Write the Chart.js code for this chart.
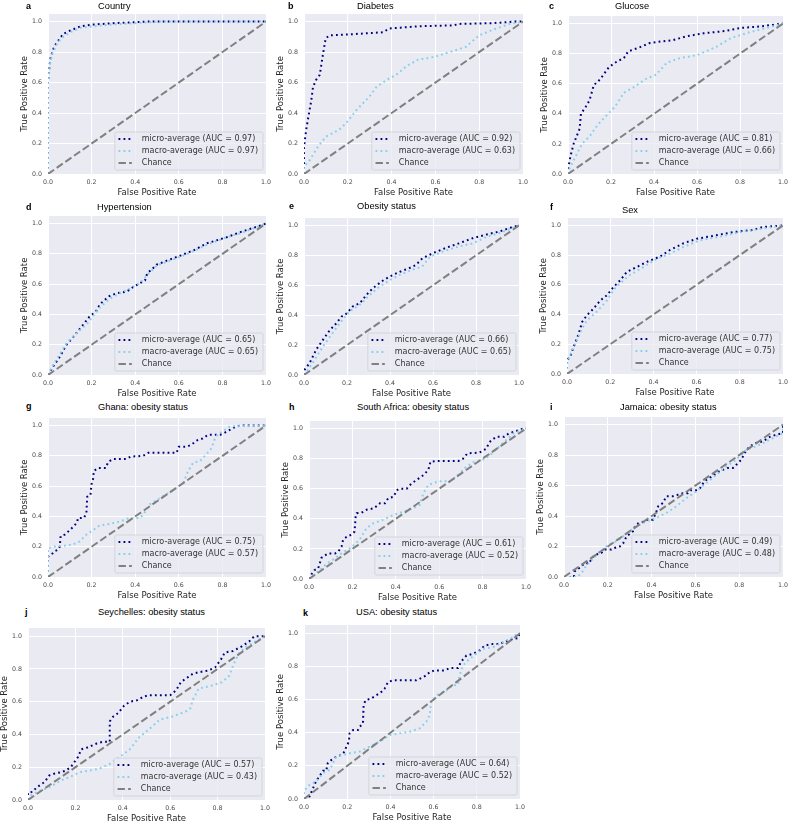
<!DOCTYPE html>
<html lang="en">
<head>
<meta charset="UTF-8">
<title>Curvas ROC</title>
<script src="https://cdn.jsdelivr.net/npm/chart.js"></script>
<style>
    html, body { margin: 0; padding: 0; background: #fff; }
    body { width: 788px; height: 821px; position: relative; overflow: hidden; }
    .panel { position: absolute; }
    .panel canvas { display: block; }
    .lbl { position: absolute; font-family: "Liberation Sans", Arial, sans-serif; line-height: 10px; white-space: nowrap; color: #000; }
    .letter { font-weight: bold; font-size: 9px; }
    .ttl { font-size: 9.3px; }
</style>
</head>
<body>
<script>
    // Datos de los paneles
    const panelLetters = ['a', 'b', 'c', 'd', 'e', 'f', 'g', 'h', 'i', 'j', 'k'];
    const panelTitles = ['Country', 'Diabetes', 'Glucose', 'Hypertension', 'Obesity status', 'Sex',
        'Ghana: obesity status', 'South Africa: obesity status', 'Jamaica: obesity status',
        'Seychelles: obesity status', 'USA: obesity status'];
    const microAuc = [0.97, 0.92, 0.81, 0.65, 0.66, 0.77, 0.75, 0.61, 0.49, 0.57, 0.64];
    const macroAuc = [0.97, 0.63, 0.66, 0.65, 0.65, 0.75, 0.57, 0.52, 0.48, 0.43, 0.52];
    const tickVals = [0, 0.2, 0.4, 0.6, 0.8, 1.0];
    const chanceLine = [[0, 0], [1, 1]];

    const countryMicro = [[0,0],[0,0.6],[0.005,0.68],[0.01,0.75],[0.02,0.8],[0.03,0.84],[0.05,0.88],[0.07,0.92],[0.1,0.94],[0.15,0.97],[0.2,0.98],[0.3,0.99],[0.45,1.0],[1,1]];
    const countryMacro = [[0,0],[0,0.6],[0.005,0.67],[0.01,0.73],[0.02,0.79],[0.04,0.85],[0.06,0.89],[0.1,0.93],[0.15,0.96],[0.25,0.975],[0.28,0.98],[0.4,0.99],[0.5,1.0],[1,1]];
    const diabetesMicro = [[0,0],[0,0.18],[0.011,0.30],[0.023,0.40],[0.033,0.48],[0.041,0.57],[0.056,0.62],[0.072,0.65],[0.087,0.79],[0.099,0.89],[0.117,0.91],[0.19,0.915],[0.25,0.92],[0.36,0.93],[0.39,0.955],[0.44,0.96],[0.53,0.97],[0.68,0.975],[0.71,0.985],[0.86,0.99],[0.96,1.0],[1,1]];
    const diabetesMacro = [[0,0],[0,0.05],[0.026,0.09],[0.064,0.18],[0.10,0.245],[0.16,0.29],[0.19,0.33],[0.24,0.42],[0.30,0.51],[0.33,0.57],[0.38,0.62],[0.42,0.65],[0.47,0.71],[0.52,0.75],[0.60,0.77],[0.665,0.80],[0.74,0.835],[0.80,0.91],[0.86,0.945],[0.94,0.985],[1,1]];
    const glucoseMicro = [[0,0],[0,0.03],[0.011,0.115],[0.026,0.2],[0.04,0.25],[0.054,0.30],[0.06,0.40],[0.08,0.44],[0.10,0.49],[0.12,0.59],[0.15,0.63],[0.17,0.67],[0.19,0.71],[0.23,0.75],[0.26,0.77],[0.28,0.815],[0.33,0.84],[0.38,0.87],[0.43,0.88],[0.49,0.89],[0.55,0.915],[0.63,0.935],[0.73,0.95],[0.80,0.97],[0.89,0.98],[1,1]];
    const glucoseMacro = [[0,0],[0,0.015],[0.026,0.09],[0.065,0.2],[0.10,0.25],[0.14,0.33],[0.18,0.39],[0.22,0.45],[0.26,0.54],[0.31,0.58],[0.36,0.63],[0.41,0.66],[0.46,0.74],[0.52,0.77],[0.60,0.79],[0.69,0.845],[0.76,0.905],[0.84,0.94],[0.92,0.97],[1,1]];
    const hypertensionMicro = [[0,0],[0.023,0.055],[0.054,0.12],[0.085,0.20],[0.115,0.25],[0.16,0.33],[0.19,0.385],[0.22,0.42],[0.24,0.47],[0.28,0.52],[0.315,0.54],[0.36,0.55],[0.39,0.58],[0.42,0.605],[0.445,0.625],[0.455,0.67],[0.50,0.73],[0.545,0.755],[0.61,0.79],[0.67,0.825],[0.73,0.87],[0.82,0.91],[0.885,0.945],[0.96,0.98],[1,1]];
    const hypertensionMacro = [[0,0],[0.023,0.065],[0.085,0.21],[0.13,0.275],[0.18,0.34],[0.21,0.395],[0.24,0.45],[0.285,0.505],[0.33,0.54],[0.375,0.57],[0.42,0.605],[0.455,0.66],[0.5,0.725],[0.56,0.755],[0.64,0.80],[0.73,0.86],[0.82,0.91],[0.9,0.945],[1,1]];
    const obesityMicro = [[0,0],[0,0.03],[0.026,0.08],[0.057,0.17],[0.088,0.235],[0.12,0.30],[0.15,0.345],[0.174,0.39],[0.197,0.41],[0.228,0.46],[0.26,0.48],[0.29,0.535],[0.32,0.58],[0.36,0.625],[0.40,0.66],[0.445,0.69],[0.49,0.715],[0.52,0.735],[0.55,0.78],[0.60,0.815],[0.66,0.85],[0.72,0.88],[0.785,0.915],[0.85,0.94],[0.91,0.96],[0.97,0.99],[1,1]];
    const obesityMacro = [[0,0],[0.01,0.02],[0.04,0.08],[0.088,0.19],[0.12,0.255],[0.166,0.345],[0.21,0.425],[0.26,0.47],[0.305,0.535],[0.35,0.59],[0.40,0.635],[0.445,0.67],[0.505,0.705],[0.55,0.725],[0.585,0.79],[0.645,0.825],[0.72,0.86],[0.785,0.88],[0.85,0.925],[0.91,0.95],[1,1]];
    const sexMicro = [[0,0],[0,0.095],[0.015,0.115],[0.03,0.18],[0.054,0.27],[0.07,0.35],[0.092,0.395],[0.123,0.44],[0.154,0.495],[0.185,0.53],[0.215,0.585],[0.246,0.63],[0.277,0.687],[0.323,0.72],[0.37,0.755],[0.43,0.79],[0.477,0.835],[0.54,0.88],[0.60,0.91],[0.677,0.93],[0.77,0.955],[0.86,0.97],[0.91,0.99],[1,1]];
    const sexMacro = [[0,0],[0,0.07],[0.015,0.127],[0.038,0.205],[0.07,0.305],[0.092,0.36],[0.138,0.42],[0.185,0.495],[0.215,0.565],[0.246,0.61],[0.29,0.665],[0.354,0.72],[0.415,0.775],[0.477,0.81],[0.54,0.855],[0.615,0.90],[0.71,0.925],[0.80,0.955],[0.91,0.98],[1,1]];
    const ghanaMicro = [[0,0],[0,0.135],[0.015,0.147],[0.03,0.17],[0.046,0.18],[0.054,0.2],[0.058,0.27],[0.077,0.28],[0.10,0.31],[0.118,0.335],[0.133,0.36],[0.138,0.39],[0.164,0.39],[0.176,0.42],[0.18,0.53],[0.195,0.54],[0.199,0.61],[0.207,0.65],[0.21,0.70],[0.23,0.72],[0.265,0.72],[0.276,0.76],[0.30,0.78],[0.36,0.78],[0.38,0.795],[0.436,0.80],[0.46,0.82],[0.59,0.82],[0.60,0.86],[0.636,0.86],[0.66,0.875],[0.68,0.90],[0.71,0.915],[0.735,0.94],[0.79,0.94],[0.80,0.945],[0.82,0.96],[0.85,0.985],[0.88,1.0],[1,1]];
    const ghanaMacro = [[0,0],[0,0.19],[0.023,0.2],[0.054,0.205],[0.077,0.207],[0.115,0.215],[0.145,0.235],[0.176,0.28],[0.207,0.31],[0.237,0.34],[0.283,0.35],[0.33,0.367],[0.375,0.39],[0.42,0.39],[0.436,0.41],[0.467,0.48],[0.513,0.52],[0.574,0.575],[0.62,0.62],[0.643,0.70],[0.666,0.755],[0.697,0.765],[0.72,0.80],[0.75,0.85],[0.766,0.915],[0.78,0.945],[0.80,0.96],[0.835,0.995],[1,1]];
    const southAfricaMicro = [[0,0],[0.011,0.03],[0.026,0.06],[0.042,0.07],[0.05,0.105],[0.057,0.14],[0.072,0.155],[0.088,0.17],[0.12,0.17],[0.134,0.18],[0.15,0.215],[0.157,0.26],[0.173,0.28],[0.196,0.295],[0.21,0.315],[0.215,0.415],[0.22,0.437],[0.242,0.44],[0.265,0.46],[0.30,0.47],[0.327,0.503],[0.35,0.503],[0.365,0.537],[0.39,0.547],[0.404,0.59],[0.42,0.60],[0.45,0.60],[0.473,0.636],[0.496,0.658],[0.527,0.69],[0.55,0.725],[0.56,0.78],[0.60,0.785],[0.69,0.785],[0.71,0.80],[0.73,0.835],[0.785,0.84],[0.816,0.865],[0.832,0.91],[0.862,0.945],[0.90,0.945],[0.92,0.967],[0.97,0.99],[0.985,1.0],[1,1]];
    const southAfricaMacro = [[0,0],[0.05,0.06],[0.08,0.1],[0.11,0.128],[0.15,0.17],[0.19,0.205],[0.233,0.26],[0.265,0.338],[0.296,0.37],[0.34,0.393],[0.39,0.426],[0.435,0.448],[0.48,0.47],[0.51,0.492],[0.527,0.57],[0.55,0.626],[0.60,0.65],[0.65,0.65],[0.69,0.695],[0.72,0.74],[0.755,0.775],[0.816,0.8],[0.877,0.88],[0.91,0.925],[0.94,0.967],[1,1]];
    const jamaicaMicro = [[0,0],[0.045,0],[0.049,0.037],[0.07,0.06],[0.094,0.09],[0.117,0.09],[0.125,0.125],[0.148,0.147],[0.17,0.157],[0.186,0.18],[0.216,0.18],[0.23,0.19],[0.254,0.20],[0.27,0.22],[0.285,0.265],[0.315,0.30],[0.327,0.344],[0.345,0.355],[0.368,0.365],[0.383,0.376],[0.406,0.376],[0.42,0.42],[0.43,0.464],[0.452,0.486],[0.467,0.53],[0.498,0.53],[0.52,0.54],[0.543,0.55],[0.566,0.55],[0.58,0.57],[0.604,0.57],[0.62,0.58],[0.642,0.63],[0.665,0.65],[0.688,0.672],[0.71,0.694],[0.749,0.716],[0.772,0.716],[0.787,0.737],[0.81,0.77],[0.825,0.814],[0.848,0.858],[0.878,0.88],[0.909,0.89],[0.94,0.92],[0.97,0.934],[1,0.945],[1,1]];
    const jamaicaMacro = [[0,0],[0.06,0],[0.08,0.026],[0.1,0.07],[0.125,0.11],[0.155,0.157],[0.186,0.19],[0.2,0.212],[0.24,0.234],[0.27,0.267],[0.3,0.30],[0.33,0.333],[0.376,0.365],[0.42,0.387],[0.467,0.42],[0.513,0.464],[0.559,0.518],[0.604,0.562],[0.65,0.617],[0.696,0.672],[0.742,0.726],[0.787,0.77],[0.833,0.836],[0.878,0.858],[0.924,0.89],[0.954,0.912],[1,0.945],[1,1]];
    const seychellesMicro = [[0,0],[0,0.045],[0.02,0.05],[0.035,0.075],[0.05,0.09],[0.07,0.11],[0.09,0.15],[0.11,0.16],[0.14,0.17],[0.16,0.18],[0.18,0.20],[0.21,0.26],[0.225,0.31],[0.25,0.32],[0.29,0.345],[0.315,0.355],[0.345,0.355],[0.345,0.48],[0.36,0.51],[0.38,0.53],[0.405,0.575],[0.43,0.60],[0.465,0.61],[0.485,0.63],[0.51,0.64],[0.60,0.64],[0.625,0.67],[0.645,0.72],[0.675,0.75],[0.695,0.77],[0.72,0.78],[0.76,0.79],[0.79,0.81],[0.815,0.86],[0.83,0.90],[0.865,0.91],[0.905,0.94],[0.935,0.97],[0.955,1.0],[1,1]];
    const seychellesMacro = [[0,0],[0.015,0.03],[0.04,0.05],[0.077,0.07],[0.105,0.09],[0.14,0.12],[0.175,0.14],[0.22,0.17],[0.26,0.18],[0.30,0.19],[0.345,0.22],[0.385,0.26],[0.43,0.31],[0.47,0.385],[0.51,0.43],[0.555,0.49],[0.61,0.51],[0.665,0.54],[0.685,0.56],[0.695,0.61],[0.72,0.68],[0.78,0.70],[0.82,0.72],[0.85,0.76],[0.865,0.82],[0.89,0.895],[0.92,0.935],[0.955,0.965],[1,1]];
    const usaMicro = [[0,0],[0.026,0.016],[0.042,0.066],[0.057,0.11],[0.073,0.14],[0.088,0.17],[0.103,0.17],[0.11,0.216],[0.127,0.236],[0.15,0.256],[0.173,0.266],[0.188,0.286],[0.196,0.316],[0.208,0.346],[0.211,0.396],[0.227,0.416],[0.25,0.416],[0.258,0.436],[0.273,0.456],[0.276,0.566],[0.285,0.596],[0.31,0.606],[0.335,0.626],[0.358,0.646],[0.373,0.666],[0.389,0.706],[0.412,0.716],[0.52,0.716],[0.543,0.73],[0.566,0.746],[0.582,0.766],[0.605,0.776],[0.651,0.776],[0.674,0.79],[0.713,0.79],[0.728,0.83],[0.752,0.866],[0.782,0.876],[0.813,0.896],[0.836,0.926],[0.875,0.936],[0.906,0.936],[0.944,0.956],[0.968,0.966],[0.99,0.97],[1,1]];
    const usaMacro = [[0,0],[0,0.05],[0.026,0.086],[0.057,0.106],[0.088,0.156],[0.119,0.176],[0.15,0.256],[0.18,0.266],[0.211,0.276],[0.258,0.286],[0.304,0.316],[0.35,0.346],[0.397,0.386],[0.443,0.396],[0.489,0.406],[0.535,0.426],[0.566,0.466],[0.582,0.506],[0.589,0.586],[0.613,0.626],[0.66,0.656],[0.69,0.686],[0.713,0.69],[0.72,0.746],[0.736,0.806],[0.767,0.846],[0.798,0.876],[0.829,0.906],[0.875,0.916],[0.906,0.936],[0.937,0.956],[0.968,0.976],[0.99,1.0],[1,1]];

    const microCurves = [countryMicro, diabetesMicro, glucoseMicro, hypertensionMicro, obesityMicro, sexMicro,
        ghanaMicro, southAfricaMicro, jamaicaMicro, seychellesMicro, usaMicro];
    const macroCurves = [countryMacro, diabetesMacro, glucoseMacro, hypertensionMacro, obesityMacro, sexMacro,
        ghanaMacro, southAfricaMacro, jamaicaMacro, seychellesMacro, usaMacro];

    // Posicion de cada panel en la pagina: area del grafico [izq, arriba, der, abajo], titulo [x, y], letra [x, y]
    const plotBoxes = [
        [48, 14, 266, 174], [304, 14, 523, 174], [568, 16, 783, 174],
        [48, 216, 266, 375], [304, 218, 519, 375], [567, 218, 783, 374],
        [48, 418, 266, 577], [309, 421, 526, 579], [564, 417, 783, 577],
        [28, 628, 265, 800], [304, 625, 520, 799]
    ];
    const titlePos = [[98, 0.5], [357, 0.5], [615, 0.5], [97, 201.5], [357, 200.5], [622, 205],
        [98, 402], [357, 402], [620, 402], [98, 607], [356, 607]];
    const letterPos = [[26, 0.5], [288, 0.5], [549, 0.5], [26, 201.5], [289, 200.5], [550, 202],
        [26, 401], [289, 401.5], [550, 401.5], [25, 607], [303, 608]];

    const Y_W = 30, X_H = 26, PAD_T = 6, PAD_R = 6;
    const tickFont = { family: 'DejaVu Sans', size: 6.3 };
    const axisFont = { family: 'DejaVu Sans', size: 8.5 };

    // Fondo gris del area y leyenda abajo a la derecha, como en seaborn
    const rocFrame = {
        id: 'rocFrame',
        beforeDraw(chart) {
            const { ctx, chartArea: a } = chart;
            ctx.save();
            ctx.fillStyle = '#EAEAF2';
            ctx.fillRect(a.left, a.top, a.right - a.left, a.bottom - a.top);
            ctx.restore();
        },
        afterDraw(chart) {
            const { ctx, chartArea: a } = chart;
            const ds = chart.data.datasets;
            ctx.save();
            ctx.font = '8px "DejaVu Sans"';
            const textW = Math.max(...ds.map(d => ctx.measureText(d.label).width));
            const rowH = 12;
            const boxW = 27 + textW + 5, boxH = ds.length * rowH + 2;
            const x0 = a.right - 3 - boxW, y0 = a.bottom - 4 - boxH;
            ctx.beginPath();
            ctx.roundRect(x0, y0, boxW, boxH, 1.6);
            ctx.fillStyle = 'rgba(234,234,242,0.8)';
            ctx.fill();
            ctx.lineWidth = 0.8;
            ctx.strokeStyle = '#cfcfd6';
            ctx.stroke();
            ds.forEach((d, k) => {
                const cy = y0 + 7 + k * rowH;
                ctx.beginPath();
                ctx.setLineDash(d.borderDash);
                ctx.lineCap = 'butt';
                ctx.strokeStyle = d.borderColor;
                ctx.lineWidth = d.borderWidth;
                ctx.moveTo(x0 + 3.7, cy);
                ctx.lineTo(x0 + 17, cy);
                ctx.stroke();
                ctx.setLineDash([]);
                ctx.fillStyle = '#333333';
                ctx.textBaseline = 'middle';
                ctx.fillText(d.label, x0 + 27, cy);
            });
            ctx.restore();
        }
    };

    function toXY(pts) {
        return pts.map(p => ({ x: p[0], y: p[1] }));
    }

    function setTicks(scale) {
        scale.ticks = tickVals.map(v => ({ value: v }));
    }

    function makePanel(i) {
        const [pl, pt, pr, pb] = plotBoxes[i];
        const div = document.createElement('div');
        div.className = 'panel';
        div.style.left = (pl - Y_W) + 'px';
        div.style.top = (pt - PAD_T) + 'px';
        const canvas = document.createElement('canvas');
        canvas.width = Y_W + (pr - pl) + PAD_R;
        canvas.height = PAD_T + (pb - pt) + X_H;
        div.appendChild(canvas);
        document.body.appendChild(div);

        const letter = document.createElement('span');
        letter.className = 'lbl letter';
        letter.textContent = panelLetters[i];
        letter.style.left = letterPos[i][0] + 'px';
        letter.style.top = letterPos[i][1] + 'px';
        document.body.appendChild(letter);

        const title = document.createElement('span');
        title.className = 'lbl ttl';
        title.textContent = panelTitles[i];
        title.style.left = titlePos[i][0] + 'px';
        title.style.top = titlePos[i][1] + 'px';
        document.body.appendChild(title);

        new Chart(canvas, {
            type: 'line',
            data: {
                datasets: [
                    {
                        label: `micro-average (AUC = ${microAuc[i].toFixed(2)})`,
                        data: toXY(microCurves[i]),
                        borderColor: '#000080',
                        borderWidth: 2,
                        borderDash: [1.8, 3.2],
                        order: 2
                    },
                    {
                        label: `macro-average (AUC = ${macroAuc[i].toFixed(2)})`,
                        data: toXY(macroCurves[i]),
                        borderColor: '#87CEEB',
                        borderWidth: 2,
                        borderDash: [1.8, 3.2],
                        order: 1
                    },
                    {
                        label: 'Chance',
                        data: toXY(chanceLine),
                        borderColor: '#808080',
                        borderWidth: 2,
                        borderDash: [7.4, 3.2],
                        order: 0
                    }
                ]
            },
            options: {
                responsive: false,
                animation: false,
                devicePixelRatio: 1,
                layout: { padding: { left: 0, top: PAD_T, right: PAD_R, bottom: 0 } },
                elements: { point: { radius: 0 }, line: { tension: 0, fill: false, borderCapStyle: 'butt' } },
                plugins: { legend: { display: false }, tooltip: { enabled: false } },
                scales: {
                    x: {
                        type: 'linear', min: 0, max: 1,
                        afterBuildTicks: setTicks,
                        afterFit: s => { s.height = X_H; s.paddingLeft = 0; s.paddingRight = 0; },
                        grid: { color: '#ffffff', lineWidth: 1, drawTicks: false },
                        border: { display: false },
                        ticks: { padding: 5, font: tickFont, color: '#4a4a4a', maxRotation: 0, autoSkip: false,
                            callback: v => v.toFixed(1) },
                        title: { display: true, text: 'False Positive Rate', font: axisFont, color: '#262626',
                            padding: { top: 0, bottom: 2 } }
                    },
                    y: {
                        type: 'linear', min: 0, max: 1.05,
                        afterBuildTicks: setTicks,
                        afterFit: s => { s.width = Y_W; s.paddingTop = 0; s.paddingBottom = 0; },
                        grid: { color: '#ffffff', lineWidth: 1, drawTicks: false },
                        border: { display: false },
                        ticks: { padding: 6, font: tickFont, color: '#4a4a4a', autoSkip: false,
                            callback: v => v.toFixed(1) },
                        title: { display: true, text: 'True Positive Rate', font: axisFont, color: '#262626',
                            padding: { top: 2, bottom: 0 } }
                    }
                }
            },
            plugins: [rocFrame]
        });
    }

    for (let i = 0; i < panelTitles.length; i++) {
        makePanel(i);
    }
</script>
</body>
</html>
